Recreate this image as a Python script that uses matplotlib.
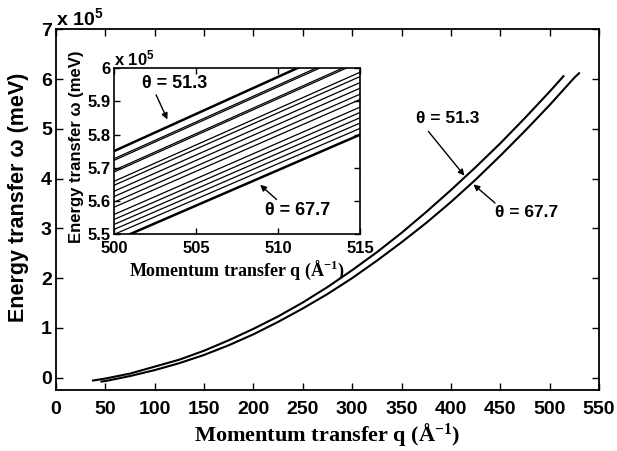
import matplotlib
matplotlib.use("Agg")
import matplotlib.pyplot as plt
from matplotlib.ticker import FuncFormatter

plt.rcParams["font.family"] = ["Liberation Sans", "DejaVu Sans"]
plt.rcParams["mathtext.default"] = "regular"

# main curves (q in 1/A, omega in 1e5 meV)
q_513 = [37.5, 50, 75, 100, 125, 150, 175, 200, 225, 250, 275, 300, 325,
         350, 375, 400, 425, 450, 475, 500, 514]
w_513 = [-0.06, -0.02, 0.08, 0.22, 0.36, 0.54, 0.75, 0.98, 1.23, 1.51, 1.82,
         2.16, 2.52, 2.91, 3.33, 3.77, 4.23, 4.71, 5.22, 5.75, 6.06]
q_677 = [46, 50, 75, 100, 125, 150, 175, 200, 225, 250, 275, 300, 325,
         350, 375, 400, 425, 450, 475, 500, 525, 529.8]
w_677 = [-0.08, -0.07, 0.03, 0.15, 0.29, 0.455, 0.65, 0.87, 1.12, 1.39, 1.68,
         2.0, 2.35, 2.72, 3.11, 3.53, 3.98, 4.46, 4.96, 5.48, 6.03, 6.12]

# inset: one straight line per angle, values at q = 500 and q = 515
q_ins = [500, 515]
w_ins_500 = [5.751, 5.728, 5.723, 5.693, 5.688, 5.660, 5.648, 5.630, 5.614,
             5.597, 5.582, 5.560, 5.545, 5.530, 5.515, 5.500, 5.480]
w_ins_515 = [6.086, 6.060, 6.055, 6.024, 6.019, 5.988, 5.975, 5.957, 5.940,
             5.922, 5.906, 5.883, 5.867, 5.851, 5.835, 5.819, 5.800]

fig = plt.figure(figsize=(6.17, 4.51), dpi=100)
ax = fig.add_axes([0.0908, 0.1353, 0.8800, 0.7993])

ax.plot(q_513, w_513, color="k", lw=1.5)
ax.plot(q_677, w_677, color="k", lw=1.5)
ax.set_xlim(0, 550)
ax.set_ylim(-0.25, 7)
ax.set_xticks(range(0, 551, 50))
ax.set_yticks(range(0, 8))
ax.tick_params(direction="in", top=True, right=True, length=5, width=1,
               labelsize=14)
ax.tick_params(axis="x", pad=8)
ax.tick_params(axis="y", pad=3)
for lab in ax.get_xticklabels() + ax.get_yticklabels():
    lab.set_fontweight("bold")
for s in ax.spines.values():
    s.set_linewidth(1.3)
ax.set_xlabel("Momentum transfer q (Å$^{-1}$)", family="Liberation Serif",
              fontsize=16, fontweight="bold", labelpad=2)
ax.set_ylabel("Energy transfer ω (meV)", fontsize=15.5, fontweight="bold")
ax.yaxis.set_label_coords(-0.050, 0.535)
ax.text(0.0, 1.0, "x 10$^{5}$", transform=ax.transAxes, fontsize=14,
        fontweight="bold", ha="left", va="bottom")

arrow = dict(arrowstyle="-|>", color="k", lw=1.0, mutation_scale=9,
             shrinkA=0, shrinkB=0)
ax.annotate("", xy=(413.7, 4.06), xytext=(377.2, 4.95), arrowprops=arrow)
ax.text(397, 5.22, "θ = 51.3", fontsize=12.5, fontweight="bold",
        ha="center", va="center")
ax.annotate("", xy=(422.8, 3.885), xytext=(444.7, 3.51), arrowprops=arrow)
ax.text(477, 3.31, "θ = 67.7", fontsize=12.5, fontweight="bold",
        ha="center", va="center")

# inset
axi = fig.add_axes([0.1853, 0.4805, 0.3982, 0.3681])
for k, (a, b) in enumerate(zip(w_ins_500, w_ins_515)):
    lw = 1.8 if k in (0, len(w_ins_500) - 1) else 0.9
    axi.plot(q_ins, [a, b], color="k", lw=lw)
axi.set_xlim(500, 515)
axi.set_ylim(5.5, 6.0)
axi.set_xticks([500, 505, 510, 515])
axi.set_yticks([5.5, 5.6, 5.7, 5.8, 5.9, 6.0])
axi.yaxis.set_major_formatter(FuncFormatter(lambda v, p: "%g" % round(v, 1)))
axi.tick_params(direction="in", top=True, right=True, length=4, width=1,
                labelsize=12, pad=3)
axi.tick_params(axis="x", pad=5)
for lab in axi.get_xticklabels() + axi.get_yticklabels():
    lab.set_fontweight("bold")
for s in axi.spines.values():
    s.set_linewidth(1.2)
axi.set_xlabel("Momentum transfer q (Å$^{-1}$)", family="Liberation Serif",
               fontsize=13, fontweight="bold", labelpad=2)
axi.set_ylabel("Energy transfer ω (meV)", fontsize=12, fontweight="bold")
axi.yaxis.set_label_coords(-0.125, 0.53)
axi.text(0.0, 1.0, "x 10$^{5}$", transform=axi.transAxes, fontsize=12,
         fontweight="bold", ha="left", va="bottom")
axi.annotate("", xy=(503.24, 5.846), xytext=(502.55, 5.92), arrowprops=arrow)
axi.text(503.7, 5.955, "θ = 51.3", fontsize=13, fontweight="bold",
         ha="center", va="center")
axi.annotate("", xy=(508.9, 5.649), xytext=(509.9, 5.605), arrowprops=arrow)
axi.text(511.2, 5.571, "θ = 67.7", fontsize=13, fontweight="bold",
         ha="center", va="center")

fig.savefig("out.png", dpi=100)
